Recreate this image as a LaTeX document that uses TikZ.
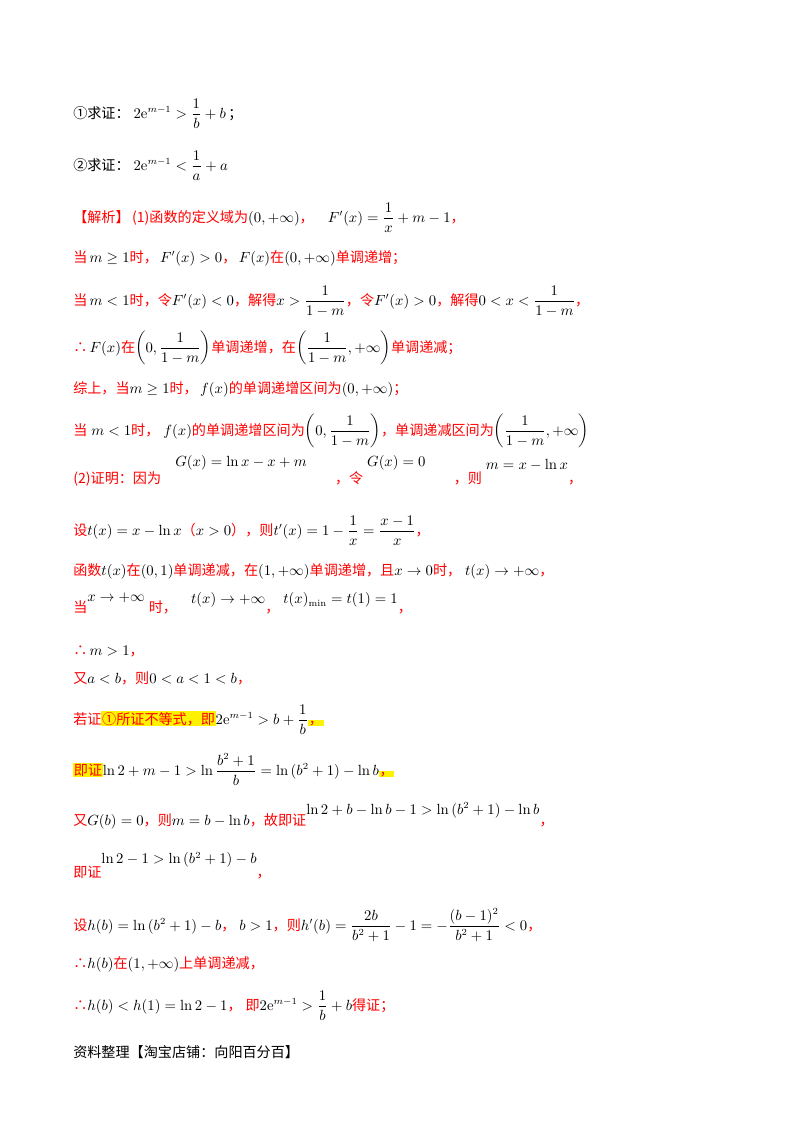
\documentclass[tikz,border=0pt]{standalone}
\usepackage{amsmath,amssymb}
\usepackage[no-math]{fontspec}
\setmainfont{Noto Sans CJK SC}
\newcommand{\R}[1]{\textcolor{red}{#1}}
\newcommand{\HL}[1]{{\setlength{\fboxsep}{0.5pt}\colorbox{yellow}{#1}}}
\begin{document}
\begin{tikzpicture}[x=0.744pt,y=-0.744pt,
  ln/.style={anchor=base west,inner sep=0pt,font=\fontsize{10.5}{12}\selectfont}]
\useasboundingbox (0,0) rectangle (800,1132);
\node[ln] (l1) at (73,118) {①求证：\;$2\mathrm{e}^{m-1}>\dfrac{1}{b}+b$\,；};
\node[ln] (l2) at (73,170) {②求证：\;$2\mathrm{e}^{m-1}<\dfrac{1}{a}+a$};
\node[ln] (l3) at (73,222) {\R{【解析】\,(1)函数的定义域为}$(0,+\infty)$\R{，}\quad$F'(x)=\dfrac{1}{x}+m-1$\R{，}};
\node[ln] (l4) at (73,262) {\R{当}\,$m\ge1$\R{时，}\,$F'(x)>0$\R{，}\,$F(x)$\R{在}$(0,+\infty)$\R{单调递增；}};
\node[ln] (l5) at (73,305) {\R{当}\,$m<1$\R{时，}\R{令}$F'(x)<0$\R{，}\R{解得}$x>\dfrac{1}{1-m}$\R{，}\R{令}$F'(x)>0$\R{，}\R{解得}$0<x<\dfrac{1}{1-m}$\R{，}};
\node[ln] (l6) at (73,352) {\R{∴}\,$F(x)$\R{在}$\left(0,\dfrac{1}{1-m}\right)$\R{单调递增，在}$\left(\dfrac{1}{1-m},+\infty\right)$\R{单调递减；}};
\node[ln] (l7) at (73,393) {\R{综上，当}$m\ge1$\R{时，}\,$f(x)$\R{的单调递增区间为}$(0,+\infty)$\R{；}};
\node[ln] (l8) at (73,435) {\R{当}\;$m<1$\R{时，}\;$f(x)$\R{的单调递增区间为}$\left(0,\dfrac{1}{1-m}\right)$\R{，单调递减区间为}$\left(\dfrac{1}{1-m},+\infty\right)$};
\node[ln] (l9) at (73,483) {\R{(2)证明：因为}\quad\raisebox{12pt}{$G(x)=\ln x-x+m$}\qquad\R{，令}\;\raisebox{12pt}{$G(x)=0$}\qquad\R{，则}\;\raisebox{10pt}{$m=x-\ln x$}\R{，}};
\node[ln] (l10) at (73,535) {\R{设}$t(x)=x-\ln x$\R{（}$x>0$\R{），则}$t'(x)=1-\dfrac{1}{x}=\dfrac{x-1}{x}$\R{，}};
\node[ln] (l11) at (73,575) {\R{函数}$t(x)$\R{在}$(0,1)$\R{单调递减，在}$(1,+\infty)$\R{单调递增，且}$x\to0$\R{时，}\;$t(x)\to+\infty$\R{，}};
\node[ln] (l12) at (73,612) {\R{当}\raisebox{8pt}{$x\to+\infty$}\;\R{时，}\quad\raisebox{6pt}{$t(x)\to+\infty$}\R{，}\;\raisebox{6pt}{$t(x)_{\min}=t(1)=1$}\R{，}};
\node[ln] (l13) at (73,655) {\R{∴}\,$m>1$\R{，}};
\node[ln] (l14) at (73,683) {\R{又}$a<b$\R{，则}$0<a<1<b$\R{，}};
\node[ln] (l15) at (73,724) {\R{若证}\HL{\R{①所证不等式，即}}$2\mathrm{e}^{m-1}>b+\dfrac{1}{b}$\HL{\R{，}}};
\node[ln] (l16) at (73,775) {\HL{\R{即证}}$\ln2+m-1>\ln\dfrac{b^2+1}{b}=\ln\left(b^2+1\right)-\ln b$\HL{\R{，}}};
\node[ln] (l17) at (73,825) {\R{又}$G(b)=0$\R{，则}$m=b-\ln b$\R{，故即证}\raisebox{8pt}{$\ln2+b-\ln b-1>\ln\left(b^2+1\right)-\ln b$}\R{，}};
\node[ln] (l18) at (73,877) {\R{即证}\raisebox{10pt}{$\ln2-1>\ln\left(b^2+1\right)-b$}\R{，}};
\node[ln] (l19) at (73,930) {\R{设}$h(b)=\ln\left(b^2+1\right)-b$\R{，}\;$b>1$\R{，则}$h'(b)=\dfrac{2b}{b^2+1}-1=-\dfrac{(b-1)^2}{b^2+1}<0$\R{，}};
\node[ln] (l20) at (73,968) {\R{∴}$h(b)$\R{在}$(1,+\infty)$\R{上单调递减，}};
\node[ln] (l21) at (73,1010) {\R{∴}$h(b)<h(1)=\ln2-1$\R{，}\;\R{即}$2\mathrm{e}^{m-1}>\dfrac{1}{b}+b$\R{得证；}};
\node[ln] (l22) at (73,1057) {资料整理【淘宝店铺：向阳百分百】};
\end{tikzpicture}
\end{document}
